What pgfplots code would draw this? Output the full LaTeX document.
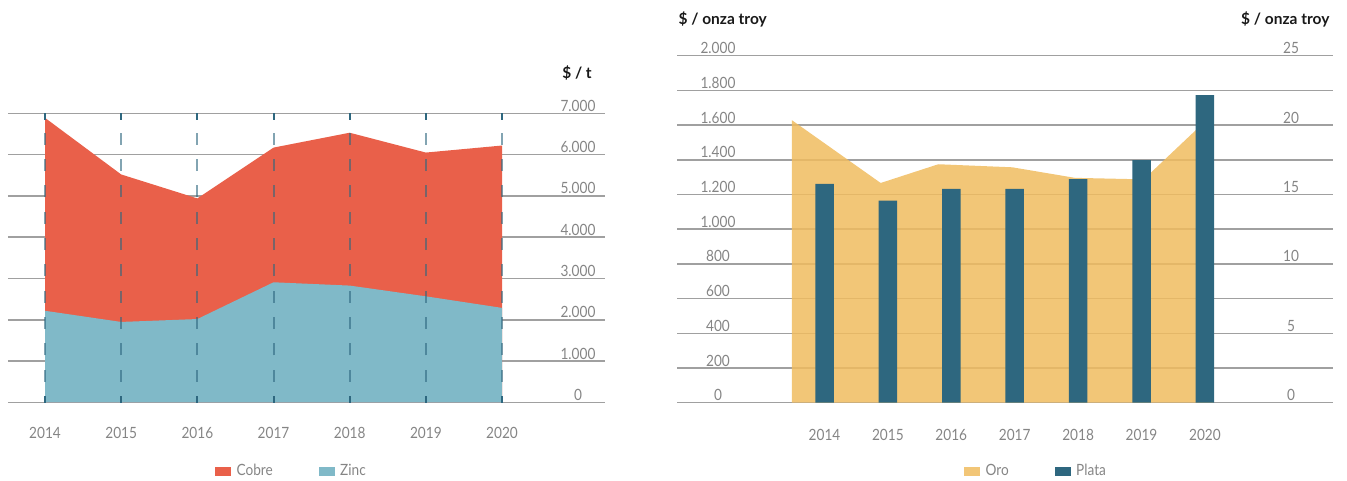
\documentclass[border=0pt]{standalone}
\usepackage{pgfplots}
\pgfplotsset{compat=1.18}
\usepackage{fontspec}
\setmainfont{Lato}
\newfontfamily\tickfont{Lato}[FakeStretch=0.88]
\definecolor{cobre}{HTML}{E9604A}
\definecolor{zinc}{HTML}{80B9C8}
\definecolor{oro}{HTML}{F0BC5F}
\definecolor{plata}{HTML}{2E677F}
\definecolor{gridc}{HTML}{A0A0A0}
\definecolor{tickc}{HTML}{858585}
\newcommand\tfont{\tickfont\fontsize{15.5}{18}\selectfont}
\pgfplotsset{
  base/.style={scale only axis, anchor=south west, axis line style={draw=none},
    major tick length=0pt, tick label style={font=\tfont, text=tickc},
    y grid style={gridc, line width=1.5pt}, clip=false},
  left/.style={base, at={(8pt,77.5pt)}, width=597pt, height=289.2pt,
    xmin=-0.4858, xmax=7.352, ymin=0, ymax=7000},
  right/.style={base, at={(677pt,77.3pt)}, width=656pt, height=347pt,
    xmin=-2.3265, xmax=8.0205},
  sq/.style={legend image code/.code={\fill[#1] (0pt,-3.75pt) rectangle (15pt,3.75pt);}},
  leg/.style={legend style={draw=none, fill=none, inner sep=0pt, font=\tfont, text=tickc,
    legend columns=2, /tikz/every odd column/.append style={column sep=4pt},
    /tikz/every even column/.append style={column sep=44pt}},
    legend cell align=left},
  years/.style={xtick={0,...,6}, xticklabels={2014,2015,2016,2017,2018,2019,2020}}
}
\begin{document}
\begin{tikzpicture}
\path[use as bounding box] (0,0) rectangle (1347pt,480pt);

% Cobre y Zinc, $/t
\begin{axis}[left, years, xticklabel style={anchor=base, yshift=-35.5pt},
  ytick={0,1000,...,7000}, yticklabels={0,1.000,2.000,3.000,4.000,5.000,6.000,7.000},
  ytick pos=right, yticklabel pos=right, yticklabel style={anchor=base, xshift=-27pt, yshift=2pt},
  ymajorgrids, leg, legend style={at={(axis description cs:0.3467,-0.2369)}, anchor=west}]
\addplot[fill=cobre, draw=none, forget plot] coordinates {(0,6890) (1,5520) (2,4940) (3,6170) (4,6530) (5,6050) (6,6220)} \closedcycle;
\addplot[fill=zinc, draw=none, forget plot] coordinates {(0,2220) (1,1950) (2,2020) (3,2910) (4,2830) (5,2570) (6,2290)} \closedcycle;
\addlegendimage{sq=cobre}\addlegendentry{Cobre}
\addlegendimage{sq=zinc}\addlegendentry{Zinc}
\end{axis}
\begin{axis}[left, xtick={0,...,6}, xticklabels={}, ytick=\empty, xtick pos=both, tick align=inside,
  major tick length=6.5pt, tick style={plata, line width=2pt}, xmajorgrids,
  x grid style={plata, opacity=0.6, line width=2pt, dash pattern=on 12pt off 14.3pt, dash phase=5.4pt}]
\addplot[draw=none] coordinates {(0,0)};
\end{axis}

% Oro y Plata, $/onza troy
\begin{axis}[right, ymin=0, ymax=2000, years, xticklabel style={anchor=base, yshift=-38pt},
  ytick={0,200,...,2000}, yticklabels={0,200,400,600,800,1.000,1.200,1.400,1.600,1.800,2.000},
  yticklabel style={anchor=base, xshift=41pt, yshift=2pt}, ymajorgrids]
\addplot[draw=none] coordinates {(0,0)};
\end{axis}
\begin{axis}[right, ymin=0, ymax=25, xtick=\empty, ytick={0,5,10,15,20,25}, yticklabels={0,5,10,15,20,25},
  ytick pos=right, yticklabel pos=right, yticklabel style={anchor=base, xshift=-42pt, yshift=2pt}]
\addplot[fill=oro, fill opacity=0.85, draw=none] coordinates {(-0.513,20.35) (0.886,15.83) (1.795,17.18) (2.962,16.96) (3.95,16.2) (5.035,16.09) (6.128,20.81)} \closedcycle;
\end{axis}
\begin{axis}[right, ymin=0, ymax=2000, xtick=\empty, ytick=\empty, leg,
  legend style={at={(axis description cs:0.4375,-0.1968)}, anchor=west}]
\addplot[ybar, bar width=18.5pt, bar shift=0pt, fill=plata, draw=none, forget plot] coordinates {(0,1261) (1,1164) (2,1232) (3,1232) (4,1289) (5,1398) (6,1773)};
\addlegendimage{sq=oro!85!white}\addlegendentry{Oro}
\addlegendimage{sq=plata}\addlegendentry{Plata}
\end{axis}

\node[anchor=base, font=\bfseries\fontsize{15.5}{18}\selectfont, text=black!90] at (577pt,401.8pt) {\$ / t};
\node[anchor=base west, font=\bfseries\fontsize{15.5}{18}\selectfont, text=black!90] at (675pt,455pt) {\$ / onza troy};
\node[anchor=base east, font=\bfseries\fontsize{15.5}{18}\selectfont, text=black!90] at (1333pt,455pt) {\$ / onza troy};
\end{tikzpicture}
\end{document}
